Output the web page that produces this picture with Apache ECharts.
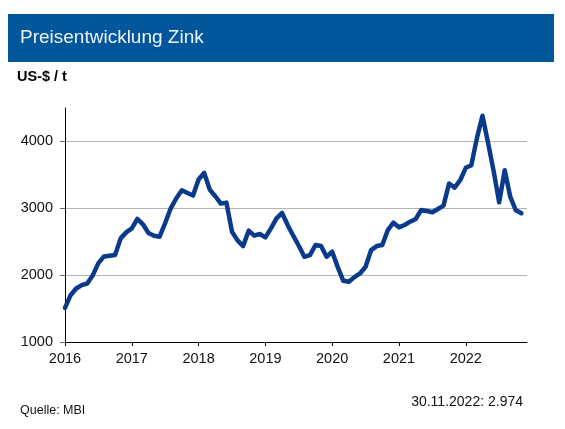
<!DOCTYPE html>
<html>
<head>
<meta charset="utf-8">
<title>Preisentwicklung Zink</title>
<script src="https://cdn.jsdelivr.net/npm/echarts@6/dist/echarts.min.js"></script>
<style>
  html, body { margin: 0; padding: 0; background: #fff; }
  #chart { width: 565px; height: 429px; }
</style>
</head>
<body>
<div id="chart"></div>
<script>
// Zinkpreis, Monatswerte in US-$/t
const years = [2016, 2017, 2018, 2019, 2020, 2021, 2022];
const months = ["01", "02", "03", "04", "05", "06", "07", "08", "09", "10", "11", "12"];

const zinc2016 = [1510, 1700, 1800, 1850, 1875, 2000, 2180, 2280, 2290, 2300, 2550, 2640];
const zinc2017 = [2700, 2840, 2760, 2630, 2590, 2575, 2780, 3000, 3150, 3270, 3230, 3190];
const zinc2018 = [3430, 3530, 3280, 3180, 3070, 3085, 2650, 2520, 2435, 2665, 2590, 2615];
const zinc2019 = [2565, 2700, 2850, 2930, 2750, 2590, 2440, 2275, 2300, 2450, 2435, 2275];
const zinc2020 = [2350, 2120, 1915, 1900, 1970, 2025, 2125, 2375, 2435, 2450, 2675, 2785];
const zinc2021 = [2715, 2750, 2800, 2840, 2975, 2960, 2940, 2990, 3040, 3370, 3310, 3420];
const zinc2022 = [3605, 3645, 4050, 4385, 3980, 3560, 3090, 3570, 3170, 2970, 2925];

const yTicks = {min: 1000, max: 4500, interval: 1000};
const titleText = "Preisentwicklung Zink";
const unitText = "US-$ / t";
const sourceText = "Quelle: MBI";
const lastText = "30.11.2022: 2.974";

const categories = [];
years.forEach(y => months.forEach(m => categories.push(y + "-" + m)));
const values = [].concat(zinc2016, zinc2017, zinc2018, zinc2019, zinc2020, zinc2021, zinc2022);

const font = "Arial, 'Liberation Sans', sans-serif";
const isYearStart = idx => idx % 12 === 0;

const chart = echarts.init(document.getElementById("chart"), null, {renderer: "canvas"});
chart.setOption({
  backgroundColor: "#fff",
  animation: false,
  textStyle: {fontFamily: font},
  grid: {left: 65, right: 38, top: 108, bottom: 87, containLabel: false},
  xAxis: {
    type: "category",
    data: categories,
    boundaryGap: false,
    axisLine: {lineStyle: {color: "#000", width: 1}},
    axisTick: {show: true, length: 4, interval: isYearStart, lineStyle: {color: "#000"}},
    axisLabel: {
      interval: isYearStart,
      margin: 9,
      color: "#111",
      fontSize: 14.5,
      fontFamily: font,
      formatter: v => v.slice(0, 4),
    },
    splitLine: {show: false},
  },
  yAxis: {
    type: "value",
    min: yTicks.min,
    max: yTicks.max,
    interval: yTicks.interval,
    axisLine: {show: true, lineStyle: {color: "#000", width: 1}},
    axisTick: {show: true, length: 5, lineStyle: {color: "#666"}},
    axisLabel: {
      showMaxLabel: false,
      margin: 12,
      color: "#111",
      fontSize: 14.5,
      fontFamily: font,
      formatter: v => String(v),
    },
    splitLine: {show: true, showMaxLine: false, lineStyle: {color: "#b4b4b4", width: 1}},
  },
  series: [
    {
      type: "line",
      data: values,
      showSymbol: false,
      smooth: false,
      lineStyle: {color: "#0a3a8c", width: 4.5, cap: "round", join: "round"},
    },
  ],
  graphic: [
    {type: "rect", left: 8, top: 14, shape: {width: 546, height: 48}, style: {fill: "#02569b"}},
    {type: "text", left: 20, top: 28, style: {text: titleText, fill: "#eef4fa", font: "19px " + font}},
    {type: "text", left: 17, top: 69, style: {text: unitText, fill: "#000", font: "bold 14.5px " + font}},
    {type: "text", left: 20, top: 404, style: {text: sourceText, fill: "#111", font: "12.5px " + font}},
    {type: "text", right: 42, top: 395, style: {text: lastText, fill: "#111", font: "14px " + font}},
  ],
});
</script>
</body>
</html>
